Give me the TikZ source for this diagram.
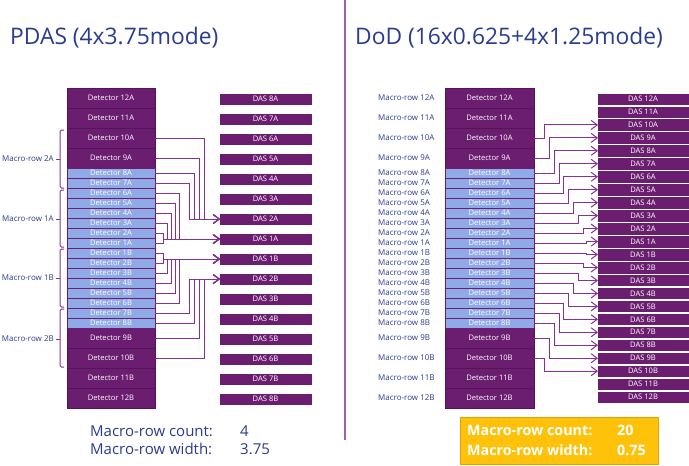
\documentclass[tikz,border=0pt]{standalone}
\usepackage{fontspec}
\setmainfont{Open Sans}
\usetikzlibrary{arrows.meta}
\definecolor{dpurple}{HTML}{6B1D70}
\definecolor{dpedge}{HTML}{55145A}
\definecolor{lblue}{HTML}{8FAAE6}
\definecolor{conncol}{HTML}{833291}
\definecolor{navy}{HTML}{2B3B8F}
\definecolor{divcol}{HTML}{A15DB2}
\definecolor{gold}{HTML}{FFC20A}
\definecolor{goldedge}{HTML}{E5A100}
\begin{document}
\begin{tikzpicture}[x=1pt,y=-1pt,
  detbig/.style={draw=dpedge, line width=0.6pt, fill=dpurple, text=white, minimum height=20pt, inner sep=0pt, outer sep=0pt, font=\fontsize{7.6}{8}\selectfont},
  detsmall/.style={detbig, fill=lblue, draw=dpurple, line width=0.9pt, minimum height=10pt},
  ldet/.style={minimum width=88pt},
  rdet/.style={minimum width=89pt},
  das/.style={fill=dpurple, draw=dpurple, text=white, inner sep=0pt, outer sep=0pt, minimum width=90pt, minimum height=10pt, font=\fontsize{7.6}{8}\selectfont},
  rdas/.style={das, minimum height=10.5pt},
  mlabel/.style={text=navy, inner sep=0pt, font=\fontsize{8}{9}\selectfont},
  arr/.style={draw=conncol, line width=1pt, -{Straight Barb[length=6pt,width=9pt]}},
  brk/.style={draw=conncol, line width=1pt, rounded corners=1.5pt},
  title/.style={text=navy, inner sep=0pt, anchor=west, font=\fontsize{22.8}{26}\selectfont},
  sumtxt/.style={text=navy, inner sep=0pt, anchor=west, font=\fontsize{15}{17}\selectfont},
  boxtxt/.style={text=white, inner sep=0pt, anchor=west, font=\bfseries\fontsize{14.3}{16}\selectfont}
]
\useasboundingbox (0,0) rectangle (689,466);
% divider
\draw[divcol, line width=1.2pt] (345,0) -- (345,440);
% titles
\node[title] (t1) at (10,38) {PDAS (4x3.75mode)};
\node[title] (t2) at (355,38) {DoD (16x0.625+4x1.25mode)};

% ---------- left panel ----------
\foreach \n in {9,...,12} {
  \node[detbig, ldet] (LA\n) at (111,{338-20*\n}) {Detector \n A};
  \node[detbig, ldet] (LB\n) at (111,{158+20*\n}) {Detector \n B};
}
\foreach \n in {1,...,8} {
  \node[detsmall, ldet] (LA\n) at (111,{253-10*\n}) {Detector \n A};
  \node[detsmall, ldet] (LB\n) at (111,{243+10*\n}) {Detector \n B};
  \node[das, minimum width=91pt] (LDA\n) at (265.5,{259-20*\n}) {DAS \n A};
  \node[das, minimum width=91pt] (LDB\n) at (265.5,{239+20*\n}) {DAS \n B};
}
% left connectors
\foreach \n/\s in {10/16,9/21,8/26,7/31}
  \draw[arr] (LA\n.east) -| ([xshift=-\s pt]LDA2.west) -- (LDA2.west);
\foreach \n/\s in {6/41,5/45,4/49,3/53,2/57,1/57}
  \draw[arr] (LA\n.east) -| ([xshift=-\s pt]LDA1.west) -- (LDA1.west);
\foreach \n/\s in {6/41,5/45,4/49,3/53,2/57,1/57}
  \draw[arr] (LB\n.east) -| ([xshift=-\s pt]LDB1.west) -- (LDB1.west);
\foreach \n/\s in {10/16,9/21,8/26,7/31}
  \draw[arr] (LB\n.east) -| ([xshift=-\s pt]LDB2.west) -- (LDB2.west);
% brackets
\draw[brk] (64,130) -- (60,130) -- (60,188) -- (64,188);
\draw[brk] (60,159) -- (56,159);
\draw[brk] (64,190) -- (60,190) -- (60,247) -- (64,247);
\draw[brk] (60,219) -- (56,219);
\draw[brk] (64,249) -- (60,249) -- (60,307) -- (64,307);
\draw[brk] (60,278) -- (56,278);
\draw[brk] (64,309) -- (60,309) -- (60,367) -- (64,367);
\draw[brk] (60,339) -- (56,339);
\node[mlabel, anchor=east] (LM2A) at (54,159) {Macro-row 2A};
\node[mlabel, anchor=east] (LM1A) at (54,219) {Macro-row 1A};
\node[mlabel, anchor=east] (LM1B) at (54,278) {Macro-row 1B};
\node[mlabel, anchor=east] (LM2B) at (54,339) {Macro-row 2B};
% summary left
\node[sumtxt] (lc) at (90,431) {Macro-row count:};
\node[sumtxt] (lcv) at (240,431) {4};
\node[sumtxt] (lw) at (90,449) {Macro-row width:};
\node[sumtxt] (lwv) at (240,449) {3.75};

% ---------- right panel ----------
\foreach \n in {9,...,12} {
  \node[detbig, rdet] (RA\n) at (489.5,{338-20*\n}) {Detector \n A};
  \node[detbig, rdet] (RB\n) at (489.5,{158+20*\n}) {Detector \n B};
}
\foreach \n in {1,...,8} {
  \node[detsmall, rdet] (RA\n) at (489.5,{253-10*\n}) {Detector \n A};
  \node[detsmall, rdet] (RB\n) at (489.5,{243+10*\n}) {Detector \n B};
}
\foreach \n in {1,...,12} {
  \node[rdas] (RDA\n) at (643,{99+12.96*(12-\n)}) {DAS \n A};
  \node[rdas] (RDB\n) at (643,{99+12.96*(11+\n)}) {DAS \n B};
  \node[mlabel, anchor=west] (RLA\n) at ([xshift=-67pt]RA\n.west) {Macro-row \n A};
  \node[mlabel, anchor=west] (RLB\n) at ([xshift=-67pt]RB\n.west) {Macro-row \n B};
}
\foreach \n/\s in {1/12,2/15,3/20,4/25,5/30,6/35,7/39,8/44,9/49,10/54} {
  \draw[arr] (RA\n.east) -| ([xshift=-\s pt]RDA\n.west) -- (RDA\n.west);
  \draw[arr] (RB\n.east) -| ([xshift=-\s pt]RDB\n.west) -- (RDB\n.west);
}
% summary right
\node[fill=gold, draw=goldedge, line width=0.8pt, minimum width=198pt, minimum height=47pt, inner sep=0pt] (ybox) at (559,440.5) {};
\node[boxtxt] (rc) at (467,430) {Macro-row count:};
\node[boxtxt] (rcv) at (617,430) {20};
\node[boxtxt] (rw) at (467,450) {Macro-row width:};
\node[boxtxt] (rwv) at (617,450) {0.75};
\end{tikzpicture}
\end{document}
